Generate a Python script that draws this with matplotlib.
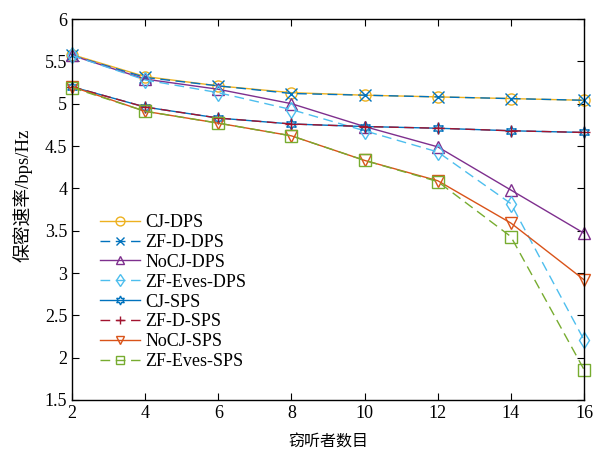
import matplotlib
matplotlib.use("Agg")
import matplotlib.pyplot as plt

plt.rcParams['font.family'] = ['Liberation Serif', 'Noto Sans CJK SC']

eves = [2, 4, 6, 8, 10, 12, 14, 16]

cj_dps = [5.58, 5.32, 5.21, 5.13, 5.10, 5.08, 5.06, 5.04]
zf_d_dps = [5.57, 5.31, 5.21, 5.12, 5.10, 5.08, 5.06, 5.04]
nocj_dps = [5.57, 5.29, 5.17, 5.00, 4.73, 4.49, 3.98, 3.47]
zf_eves_dps = [5.57, 5.28, 5.13, 4.93, 4.68, 4.43, 3.82, 2.21]
cj_sps = [5.20, 4.96, 4.83, 4.76, 4.73, 4.71, 4.68, 4.66]
zf_d_sps = [5.20, 4.96, 4.83, 4.76, 4.73, 4.71, 4.68, 4.66]
nocj_sps = [5.20, 4.91, 4.77, 4.62, 4.33, 4.09, 3.59, 2.92]
zf_eves_sps = [5.19, 4.91, 4.77, 4.62, 4.33, 4.08, 3.43, 1.86]

series = [
    ("CJ-DPS", cj_dps, "#EDB120", "o", "-"),
    ("ZF-D-DPS", zf_d_dps, "#0072BD", "x", (0, (7, 4))),
    ("NoCJ-DPS", nocj_dps, "#7E2F8E", "^", "-"),
    ("ZF-Eves-DPS", zf_eves_dps, "#4DBEEE", "d", (0, (7, 4))),
    ("CJ-SPS", cj_sps, "#0072BD", (6, 1, 0), "-"),
    ("ZF-D-SPS", zf_d_sps, "#A2142F", "+", (0, (7, 4))),
    ("NoCJ-SPS", nocj_sps, "#D95319", "v", "-"),
    ("ZF-Eves-SPS", zf_eves_sps, "#77AC30", "s", (0, (7, 4))),
]

fig = plt.figure(figsize=(6.03, 4.5), dpi=100)
ax = fig.add_axes([72 / 603, 50 / 450, 512 / 603, 381 / 450])

for name, vals, color, marker, ls in series:
    ax.plot(eves, vals, color=color, linestyle=ls, linewidth=1.0,
            marker=marker, markersize=8, markerfacecolor="none",
            markeredgecolor=color, markeredgewidth=1.0, label=name,
            clip_on=False)

ax.set_xlim(2, 16)
ax.set_ylim(1.5, 6)
ax.set_xticks(range(2, 17, 2))
ax.set_yticks([1.5, 2, 2.5, 3, 3.5, 4, 4.5, 5, 5.5, 6])
ax.set_yticklabels(["1.5", "2", "2.5", "3", "3.5", "4", "4.5", "5", "5.5", "6"])
ax.tick_params(direction="in", top=True, right=True, labelsize=13, length=5)
for s in ax.spines.values():
    s.set_linewidth(1.0)

ax.set_xlabel("窃听者数目", fontsize=11.5, labelpad=9)
ax.set_ylabel("保密速率/bps/Hz", fontsize=13.5)
ax.yaxis.set_label_coords(-0.078, 0.538)

ax.legend(loc="lower left", bbox_to_anchor=(0.03, 0.045), frameon=False,
          fontsize=13, handlelength=2.2, labelspacing=0.16, borderpad=0.2,
          handletextpad=0.3, markerscale=0.8)

fig.savefig("out.png", dpi=100)
